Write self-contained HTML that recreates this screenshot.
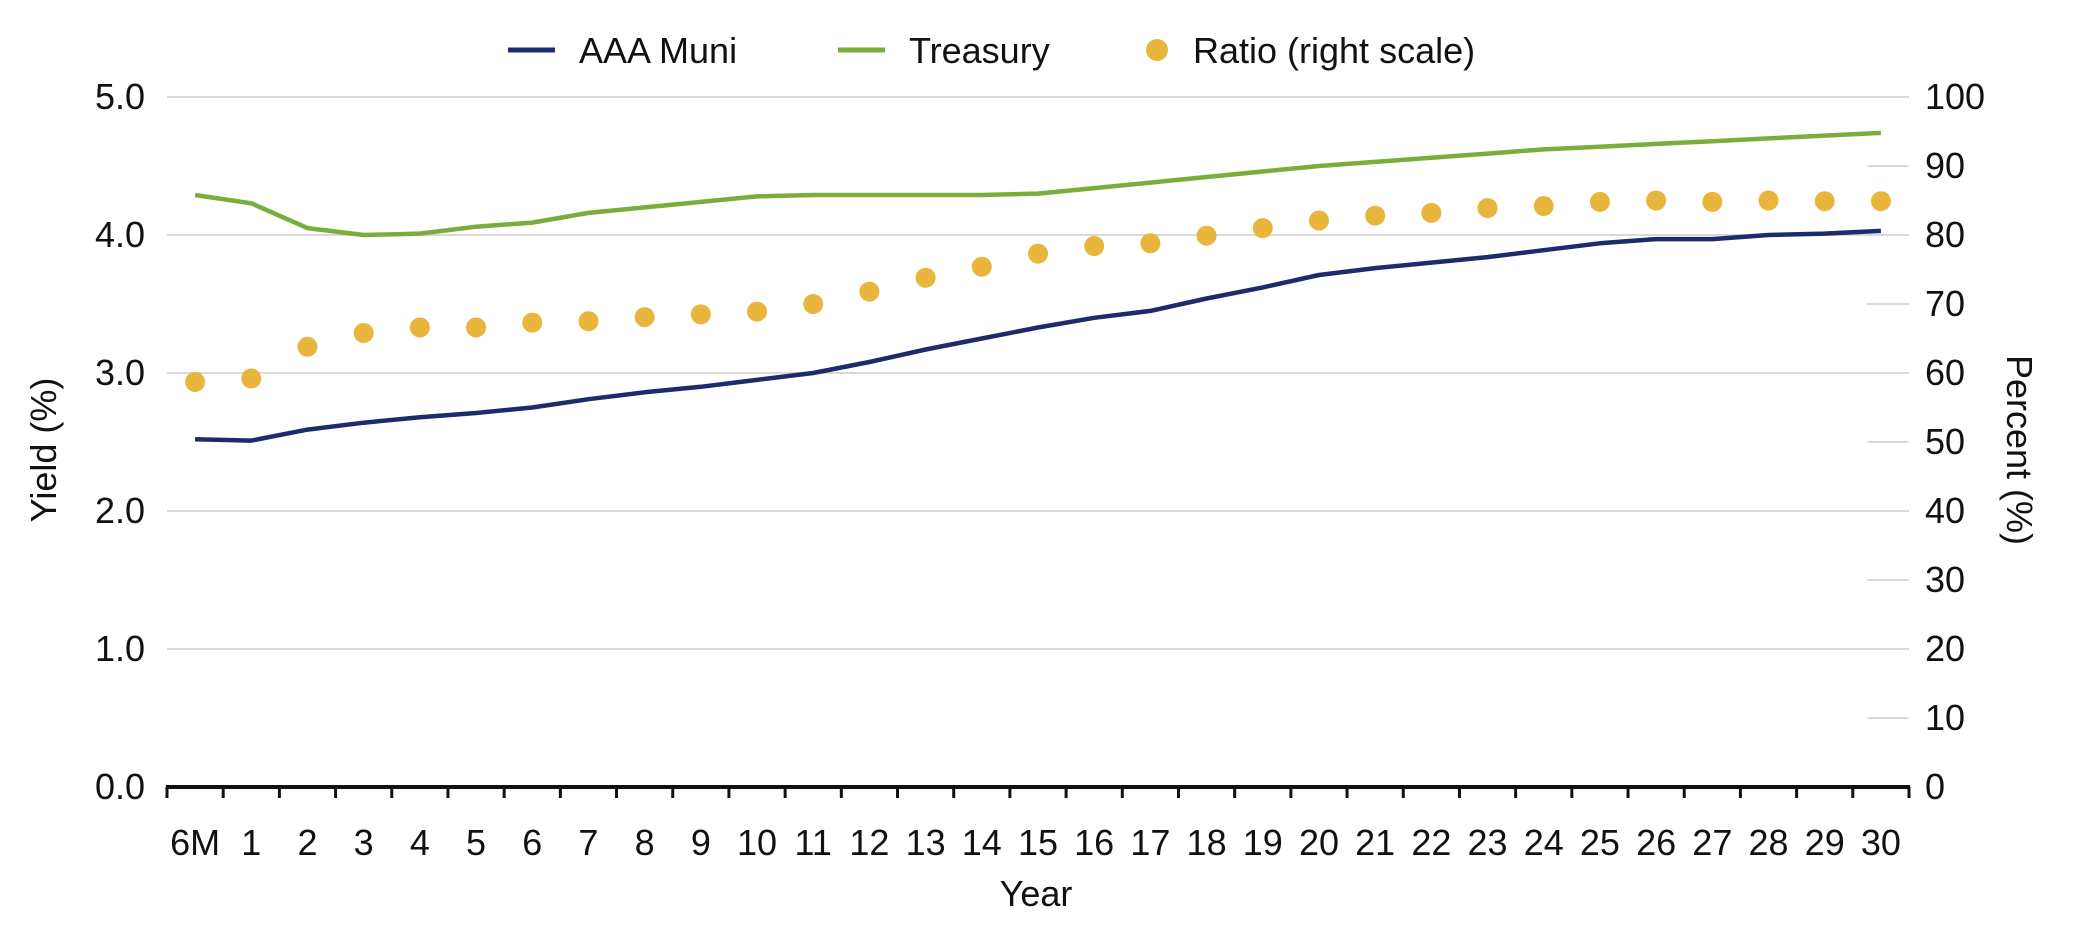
<!DOCTYPE html>
<html><head><meta charset="utf-8"><style>
html,body{margin:0;padding:0;background:#fff;}
svg{display:block;font-family:"Liberation Sans",sans-serif;}
</style></head><body>
<svg id="chart" width="2084" height="936" viewBox="0 0 2084 936" xmlns="http://www.w3.org/2000/svg">
<g id="grid"></g>
<g id="axes"></g>
<g id="series"></g>
<g>
  <line x1="508" y1="50" x2="555" y2="50" stroke="#1f2a6b" stroke-width="5"/>
  <text x="579" y="63" font-size="36" fill="#111">AAA Muni</text>
  <line x1="838" y1="50" x2="885" y2="50" stroke="#7aad3a" stroke-width="5"/>
  <text x="909" y="63" font-size="36" fill="#111">Treasury</text>
  <circle cx="1157" cy="50" r="11" fill="#e8b63c"/>
  <text x="1193" y="63" font-size="36" fill="#111">Ratio (right scale)</text>
</g>
<text transform="translate(56,450) rotate(-90)" text-anchor="middle" font-size="36" fill="#111">Yield (%)</text>
<text transform="translate(2007,450) rotate(90)" text-anchor="middle" font-size="36" fill="#111">Percent (%)</text>
<text x="1036" y="906" text-anchor="middle" font-size="36" fill="#111">Year</text>
</svg>
<script>
const categories = ["6M","1","2","3","4","5","6","7","8","9","10","11","12","13","14","15","16","17","18","19","20","21","22","23","24","25","26","27","28","29","30"];
const muniValues = [2.52,2.51,2.59,2.64,2.68,2.71,2.75,2.81,2.86,2.90,2.95,3.00,3.08,3.17,3.25,3.33,3.40,3.45,3.54,3.62,3.71,3.76,3.80,3.84,3.89,3.94,3.97,3.97,4.00,4.01,4.03];
const treasuryValues = [4.29,4.23,4.05,4.00,4.01,4.06,4.09,4.16,4.20,4.24,4.28,4.29,4.29,4.29,4.29,4.30,4.34,4.38,4.42,4.46,4.50,4.53,4.56,4.59,4.62,4.64,4.66,4.68,4.70,4.72,4.74];
const ratioValues = [58.7,59.2,63.8,65.8,66.6,66.6,67.3,67.5,68.1,68.5,68.9,70.0,71.8,73.8,75.4,77.3,78.4,78.8,79.9,81.0,82.1,82.8,83.2,83.9,84.2,84.8,85.0,84.8,85.0,84.9,84.9];
const leftTicks = ["0.0","1.0","2.0","3.0","4.0","5.0"];
const rightTicks = ["0","10","20","30","40","50","60","70","80","90","100"];

const NS = "http://www.w3.org/2000/svg";
const X0 = 167, X1 = 1909, Y0 = 787, Y1 = 97;
const band = (X1 - X0) / categories.length;
const xPos = i => X0 + band * (i + 0.5);
const yLeft = v => Y0 - (v / 5) * (Y0 - Y1);
const yRight = v => Y0 - (v / 100) * (Y0 - Y1);
function mk(tag, attrs, parent) {
  const el = document.createElementNS(NS, tag);
  for (const k in attrs) el.setAttribute(k, attrs[k]);
  parent.appendChild(el);
  return el;
}
const grid = document.getElementById('grid');
const axes = document.getElementById('axes');
const series = document.getElementById('series');

leftTicks.forEach((t, i) => {
  const v = parseFloat(t);
  const y = yLeft(v);
  if (v > 0) {
    const g = mk('line', {x1: X0, x2: X1, y1: y, y2: y, stroke: '#d9d9d9', 'stroke-width': 2}, grid);
    
    
  }
  const tx = mk('text', {x: 145, y: y + 12, 'text-anchor': 'end', 'font-size': 36, fill: '#111'}, axes);
  tx.textContent = t;
  
  
});
rightTicks.forEach((t) => {
  const v = parseFloat(t);
  const y = yRight(v);
  if (v % 20 !== 0) {
    const g = mk('line', {x1: 1867, x2: X1, y1: y, y2: y, stroke: '#d9d9d9', 'stroke-width': 2}, grid);
    
    
  }
  const tx = mk('text', {x: 1925, y: y + 12, 'text-anchor': 'start', 'font-size': 36, fill: '#111'}, axes);
  tx.textContent = t;
  
  
});
const ax = mk('line', {x1: X0 - 1, x2: X1 + 1, y1: Y0, y2: Y0, stroke: '#111', 'stroke-width': 4}, axes);


for (let i = 0; i <= categories.length; i++) {
  const x = X0 + band * i;
  const tk = mk('line', {x1: x, x2: x, y1: Y0, y2: Y0 + 11, stroke: '#111', 'stroke-width': 3}, axes);
  
  
}
categories.forEach((c, i) => {
  const tx = mk('text', {x: xPos(i), y: 855, 'text-anchor': 'middle', 'font-size': 36, fill: '#111'}, axes);
  tx.textContent = c;
  
  
});
function line(vals, color, name) {
  const d = vals.map((v, i) => (i ? 'L' : 'M') + xPos(i).toFixed(1) + ',' + yLeft(v).toFixed(1)).join(' ');
  const p = mk('path', {d: d, fill: 'none', stroke: color, 'stroke-width': 4.5, 'stroke-linejoin': 'round'}, series);
  
  
}
line(treasuryValues, '#7aad3a', 'treasury-line');
line(muniValues, '#1f2a6b', 'aaa-muni-line');
ratioValues.forEach((v, i) => {
  const c = mk('circle', {cx: xPos(i), cy: yRight(v), r: 10, fill: '#e8b63c'}, series);
  
  
});
</script>
</body></html>
